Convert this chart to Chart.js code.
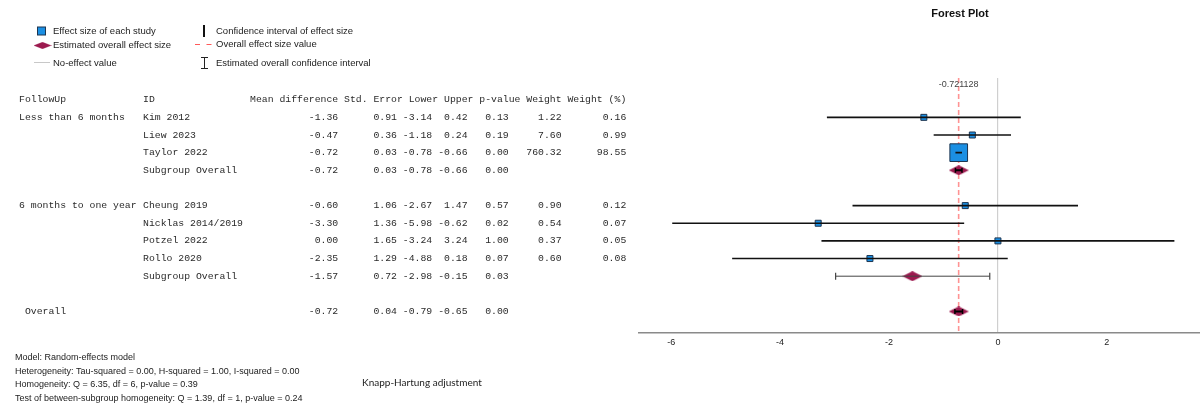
<!DOCTYPE html>
<html>
<head>
<meta charset="utf-8">
<script src="https://cdn.jsdelivr.net/npm/chart.js@4.4.0/dist/chart.umd.min.js"></script>
<style>
  html, body { margin: 0; padding: 0; background: #fff; }
</style>
</head>
<body>
<canvas id="forest" width="1200" height="418"></canvas>
<script>
// studies
const studyIds = ['Kim 2012', 'Liew 2023', 'Taylor 2022', 'Cheung 2019', 'Nicklas 2014/2019', 'Potzel 2022', 'Rollo 2020'];
const studyGroup = [0, 0, 0, 1, 1, 1, 1];
const studyMean = [-1.36, -0.47, -0.72, -0.60, -3.30, 0.00, -2.35];
const studySe = [0.91, 0.36, 0.03, 1.06, 1.36, 1.65, 1.29];
const studyLower = [-3.14, -1.18, -0.78, -2.67, -5.98, -3.24, -4.88];
const studyUpper = [0.42, 0.24, -0.66, 1.47, -0.62, 3.24, 0.18];
const studyP = [0.13, 0.19, 0.00, 0.57, 0.02, 1.00, 0.07];
const studyWeight = [1.22, 7.60, 760.32, 0.90, 0.54, 0.37, 0.60];
const studyWeightPct = [0.16, 0.99, 98.55, 0.12, 0.07, 0.05, 0.08];

// subgroup / overall summaries
const groupNames = ['Less than 6 months', '6 months to one year', ' Overall'];
const summaryIds = ['Subgroup Overall', 'Subgroup Overall', ''];
const summaryMean = [-0.72, -1.57, -0.72];
const summarySe = [0.03, 0.72, 0.04];
const summaryLower = [-0.78, -2.98, -0.79];
const summaryUpper = [-0.66, -0.15, -0.65];
const summaryP = [0.00, 0.03, 0.00];

const overallEffect = -0.721128;
const xTicks = [-6, -4, -2, 0, 2];

const notes = [
  'Model: Random-effects model',
  'Heterogeneity: Tau-squared = 0.00, H-squared = 1.00, I-squared = 0.00',
  'Homogeneity: Q = 6.35, df = 6, p-value = 0.39',
  'Test of between-subgroup homogeneity: Q = 1.39, df = 1, p-value = 0.24'
];

// row order: studies of a group, its subgroup line, blank line, ... then overall
const studyRow = [];
const summaryRow = [];
const groupRow = [];
let r = 1;
groupNames.forEach((g, gi) => {
  if (gi < groupNames.length - 1) {
    groupRow[gi] = r;
    studyIds.forEach((id, i) => { if (studyGroup[i] === gi) studyRow[i] = r++; });
    summaryRow[gi] = r++;
    r++;
  } else {
    groupRow[gi] = r;
    summaryRow[gi] = r;
  }
});

const yMin = -1.23, yMax = 13.23;
const BLUE = '#1b8fe3', MAROON = '#9c1a4f';
const monoFont = '"Liberation Mono", "Courier New", monospace';
const sansFont = '"Liberation Sans", Arial, sans-serif';

function diamondStyle(w, h, color) {
  const c = document.createElement('canvas');
  c.width = w; c.height = h;
  const g = c.getContext('2d');
  g.fillStyle = color;
  g.beginPath();
  g.moveTo(0, h / 2); g.lineTo(w / 2, 0); g.lineTo(w, h / 2); g.lineTo(w / 2, h);
  g.closePath();
  g.fill();
  return c;
}
const diamondImg = diamondStyle(20, 10, MAROON);

const datasets = [];

// overall effect reference line
datasets.push({
  type: 'line',
  data: [{ x: overallEffect, y: yMin }, { x: overallEffect, y: yMax }],
  borderColor: 'rgba(255,120,120,0.8)',
  borderWidth: 1.6,
  borderDash: [5, 3],
  pointRadius: 0,
  order: 10
});

// study squares
datasets.push({
  type: 'scatter',
  data: studyMean.map((m, i) => ({ x: m, y: studyRow[i] })),
  pointStyle: 'rect',
  pointRadius: ctx => Math.max(6, 1.78 * Math.sqrt(studyWeightPct[ctx.dataIndex])) / Math.SQRT2,
  backgroundColor: BLUE,
  borderColor: '#1d3550',
  borderWidth: 1,
  order: 6
});

// study confidence intervals
studyIds.forEach((id, i) => {
  datasets.push({
    type: 'line',
    data: [{ x: studyLower[i], y: studyRow[i] }, { x: studyUpper[i], y: studyRow[i] }],
    borderColor: '#111',
    borderWidth: 1.6,
    pointRadius: 0,
    order: 5
  });
});

// summary diamonds
datasets.push({
  type: 'scatter',
  data: summaryMean.map((m, i) => ({ x: m, y: summaryRow[i] })),
  pointStyle: diamondImg,
  pointRadius: 10,
  order: 4
});

// summary confidence intervals with end caps
summaryIds.forEach((id, i) => {
  const wide = summaryUpper[i] - summaryLower[i] > 0.5;
  datasets.push({
    type: 'line',
    data: [{ x: summaryLower[i], y: summaryRow[i] }, { x: summaryUpper[i], y: summaryRow[i] }],
    borderColor: wide ? '#444' : '#000',
    borderWidth: wide ? 1 : 2,
    pointStyle: 'line',
    pointRotation: 90,
    pointRadius: wide ? 3.5 : 2.5,
    pointBorderColor: wide ? '#444' : '#000',
    pointBorderWidth: wide ? 1.2 : 1.5,
    order: 3
  });
});

const textPlugin = {
  id: 'forestText',
  afterDraw(chart) {
    const ctx = chart.ctx;
    const xs = chart.scales.x, ys = chart.scales.y;
    ctx.save();

    // title
    ctx.fillStyle = '#111';
    ctx.font = 'bold 11px ' + sansFont;
    ctx.textAlign = 'center';
    ctx.textBaseline = 'middle';
    ctx.fillText('Forest Plot', 960, 14);

    // overall value label
    ctx.font = '9px ' + sansFont;
    ctx.fillStyle = '#444';
    ctx.fillText(String(overallEffect), xs.getPixelForValue(overallEffect), 85);

    // legend
    ctx.textAlign = 'left';
    ctx.fillStyle = '#222';
    ctx.font = '9.5px ' + sansFont;
    ctx.fillText('Effect size of each study', 53, 31.5);
    ctx.fillText('Estimated overall effect size', 53, 45.5);
    ctx.fillText('No-effect value', 53, 63);
    ctx.fillText('Confidence interval of effect size', 216, 31.5);
    ctx.fillText('Overall effect size value', 216, 44);
    ctx.fillText('Estimated overall confidence interval', 216, 63.5);

    ctx.fillStyle = BLUE;
    ctx.strokeStyle = '#1d3550';
    ctx.lineWidth = 1;
    ctx.fillRect(37.5, 27, 8, 8);
    ctx.strokeRect(37.5, 27, 8, 8);
    ctx.drawImage(diamondStyle(18, 7, MAROON), 33.5, 42);
    ctx.strokeStyle = '#c8c8c8';
    ctx.beginPath(); ctx.moveTo(34, 62.5); ctx.lineTo(50, 62.5); ctx.stroke();
    ctx.strokeStyle = '#111';
    ctx.lineWidth = 2;
    ctx.beginPath(); ctx.moveTo(204, 25); ctx.lineTo(204, 37); ctx.stroke();
    ctx.strokeStyle = '#ff5a5a';
    ctx.lineWidth = 1.2;
    ctx.beginPath(); ctx.moveTo(195, 44.5); ctx.lineTo(200, 44.5); ctx.moveTo(206.5, 44.5); ctx.lineTo(211.5, 44.5); ctx.stroke();
    ctx.strokeStyle = '#222';
    ctx.lineWidth = 1;
    ctx.beginPath();
    ctx.moveTo(204.5, 57.5); ctx.lineTo(204.5, 68.5);
    ctx.moveTo(201, 57.5); ctx.lineTo(208, 57.5);
    ctx.moveTo(201, 68.5); ctx.lineTo(208, 68.5);
    ctx.stroke();

    // table (monospace text columns)
    ctx.font = '9.8px ' + monoFont;
    ctx.fillStyle = '#2a2a2a';
    const cw = ctx.measureText('0').width;
    const hy = ys.getPixelForValue(0);
    ctx.fillText('FollowUp', 19, hy);
    ctx.fillText('ID', 143, hy);
    ctx.fillText('Mean difference Std. Error Lower Upper p-value Weight Weight (%)', 250, hy);

    const colEnd = [15, 25, 31, 37, 44, 53, 64];
    function row(y, vals) {
      ctx.textAlign = 'right';
      vals.forEach((v, k) => { if (v !== null) ctx.fillText(v.toFixed(2), 250 + colEnd[k] * cw, y); });
      ctx.textAlign = 'left';
    }
    groupNames.forEach((g, gi) => ctx.fillText(g, 19, ys.getPixelForValue(groupRow[gi])));
    studyIds.forEach((id, i) => {
      const y = ys.getPixelForValue(studyRow[i]);
      ctx.fillText(id, 143, y);
      row(y, [studyMean[i], studySe[i], studyLower[i], studyUpper[i], studyP[i], studyWeight[i], studyWeightPct[i]]);
    });
    summaryIds.forEach((id, i) => {
      const y = ys.getPixelForValue(summaryRow[i]);
      ctx.fillText(id, 143, y);
      row(y, [summaryMean[i], summarySe[i], summaryLower[i], summaryUpper[i], summaryP[i], null, null]);
    });

    // notes
    ctx.font = '9px ' + sansFont;
    ctx.fillStyle = '#222';
    notes.forEach((t, k) => ctx.fillText(t, 15, 358 + k * 13.5));
    ctx.font = '10px Lato, "Open Sans", sans-serif';
    ctx.fillText('Knapp-Hartung adjustment', 362, 383);
    ctx.restore();
  }
};

new Chart(document.getElementById('forest'), {
  data: { datasets: datasets },
  options: {
    responsive: false,
    animation: false,
    events: [],
    layout: { autoPadding: false, padding: { left: 639, right: 0, top: 78, bottom: 66 } },
    plugins: { legend: { display: false }, tooltip: { enabled: false }, title: { display: false } },
    scales: {
      x: {
        type: 'linear',
        min: -6.59,
        max: 3.71,
        afterBuildTicks: scale => { scale.ticks = xTicks.map(v => ({ value: v })); },
        grid: {
          drawTicks: false,
          color: ctx => (ctx.tick && ctx.tick.value === 0) ? '#cfcfcf' : 'rgba(0,0,0,0)',
          lineWidth: 1.2
        },
        border: { color: '#8a8a8a', width: 1.5 },
        ticks: { font: { family: sansFont, size: 9 }, color: '#222', padding: 4 }
      },
      y: {
        type: 'linear',
        display: false,
        reverse: true,
        min: yMin,
        max: yMax
      }
    }
  },
  plugins: [textPlugin]
});
</script>
</body>
</html>
